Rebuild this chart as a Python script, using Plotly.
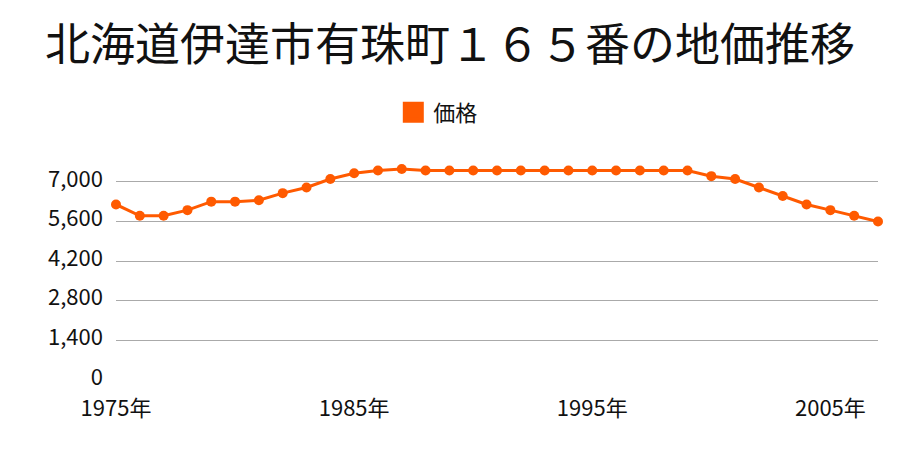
import plotly.graph_objects as go

years = list(range(1975, 2008))
prices = [6200, 5800, 5800, 6000, 6300, 6300, 6350, 6600, 6800, 7100,
          7300, 7400, 7450, 7400, 7400, 7400, 7400, 7400, 7400, 7400,
          7400, 7400, 7400, 7400, 7400, 7200, 7100, 6800, 6500, 6200,
          6000, 5800, 5600]
x_tick_vals = [1975, 1985, 1995, 2005]
x_tick_text = ["1975年", "1985年", "1995年", "2005年"]
y_tick_vals = [0, 1400, 2800, 4200, 5600, 7000]
y_tick_text = ["0", "1,400", "2,800", "4,200", "5,600", "7,000"]

color = "#ff5a00"
font = "Noto Sans CJK JP"

fig = go.Figure()
fig.add_trace(go.Scatter(
    x=years, y=prices, mode="lines+markers", name="価格",
    line=dict(color=color, width=3),
    marker=dict(color=color, size=10),
    cliponaxis=False, showlegend=False,
))
# legend entry (square swatch)
fig.add_trace(go.Scatter(
    x=[None], y=[None], mode="markers", name="価格",
    marker=dict(color=color, size=22, symbol="square",
                line=dict(color=color, width=5)),
    showlegend=True,
))

fig.update_layout(
    width=900, height=450,
    paper_bgcolor="white", plot_bgcolor="white",
    margin=dict(l=116, r=22, t=162, b=70),
    font=dict(family=font, color="#111"),
    title=dict(text="北海道伊達市有珠町１６５番の地価推移", x=0.5, xanchor="center",
               xref="container", y=0.9, yref="container", yanchor="middle",
               font=dict(size=45, family=font, color="#111")),
    showlegend=True,
    legend=dict(orientation="h", x=0.487, xanchor="center", xref="container",
                y=0.75, yref="container", yanchor="middle",
                font=dict(size=22, family=font), itemsizing="trace",
                itemwidth=30),
    xaxis=dict(range=[1975, 2007], tickvals=x_tick_vals, ticktext=x_tick_text,
               showgrid=False, zeroline=False, showline=False, ticks="",
               ticklabelstandoff=13,
               tickfont=dict(size=22, family=font, color="#111")),
    yaxis=dict(range=[0, 7700], tickvals=y_tick_vals, ticktext=y_tick_text,
               showgrid=True, gridcolor="#aaaaaa", gridwidth=1,
               zeroline=False, showline=False, ticks="",
               ticklabelstandoff=12, ticklabelshift=-3,
               tickfont=dict(size=22, family=font, color="#111")),
)

fig.write_html("out.html")
